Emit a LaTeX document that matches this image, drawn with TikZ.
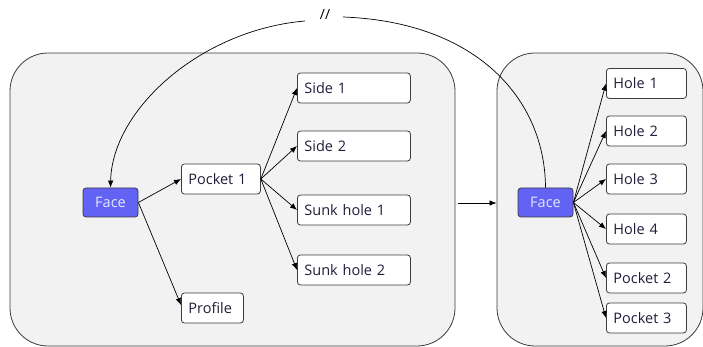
\documentclass[tikz,border=0pt]{standalone}
\usepackage{fontspec}
\setmainfont{Open Sans}
\usetikzlibrary{arrows.meta}
\definecolor{boxbg}{RGB}{242,242,242}
\definecolor{facefill}{RGB}{98,98,245}
\definecolor{facetext}{RGB}{230,230,255}
\definecolor{edgegray}{RGB}{60,60,60}
\definecolor{txt}{RGB}{30,30,60}
\tikzset{
  container/.style={draw=edgegray, fill=boxbg, rounded corners=38pt, line width=0.8pt},
  item/.style={draw=edgegray, fill=white, rounded corners=3pt, line width=0.8pt,
    minimum height=30pt, inner xsep=7pt, inner ysep=0pt, align=left,
    font=\fontsize{14.5}{17}\selectfont, text=txt},
  facebox/.style={draw=edgegray, fill=facefill, rounded corners=3pt, line width=0.8pt,
    minimum width=55pt, minimum height=29pt, inner sep=0pt,
    font=\fontsize{14.5}{17}\selectfont, text=facetext},
  arr/.style={-{Latex[length=7pt,width=5.5pt]}, line width=0.7pt, black},
  arc/.style={line width=0.7pt, black}
}
\begin{document}
\begin{tikzpicture}[x=1pt,y=-1pt]
\useasboundingbox (0,0) rectangle (703,347);
% containers
\node[container, minimum width=445pt, minimum height=293pt, inner sep=0pt] (left) at (232.5,199.5) {};
\node[container, minimum width=206pt, minimum height=293pt, inner sep=0pt] (right) at (600,199.5) {};
% left nodes
\node[facebox] (faceL) at (110.5,202.5) {Face};
\node[item, text width=65pt, anchor=west] (pocket1) at (181,179) {Pocket 1};
\node[item, text width=99pt, anchor=west] (side1) at (297,88) {Side 1};
\node[item, text width=99pt, anchor=west] (side2) at (297,146) {Side 2};
\node[item, text width=99pt, anchor=west] (sunk1) at (297,210) {Sunk hole 1};
\node[item, text width=99pt, anchor=west] (sunk2) at (297,270) {Sunk hole 2};
\node[item, text width=48pt, anchor=west] (profile) at (181,308) {Profile};
% right nodes
\node[facebox] (faceR) at (545.5,202.5) {Face};
\node[item, text width=66pt, anchor=west] (hole1) at (606,83.5) {Hole 1};
\node[item, text width=66pt, anchor=west] (hole2) at (606,131) {Hole 2};
\node[item, text width=66pt, anchor=west] (hole3) at (606,179) {Hole 3};
\node[item, text width=66pt, anchor=west] (hole4) at (606,229) {Hole 4};
\node[item, text width=66pt, anchor=west] (pocket2) at (606,278) {Pocket 2};
\node[item, text width=66pt, anchor=west] (pocket3) at (606,318) {Pocket 3};
% edges left
\draw[arr] (faceL.east) -- (pocket1.west);
\draw[arr] (faceL.east) -- ([yshift=3pt]profile.west);
\foreach \t in {side1,side2,sunk1,sunk2} \draw[arr] (pocket1.east) -- (\t.west);
% edges right
\foreach \t in {hole1,hole2,hole3,hole4,pocket2,pocket3} \draw[arr] (faceR.east) -- (\t.west);
% between containers
\draw[arr] ([xshift=3pt,yshift=-3.5pt]left.east) -- ([yshift=-3.5pt]right.west);
% arc with break
\coordinate (brkL) at (305,21);
\coordinate (brkR) at (343,17);
\node[font=\fontsize{14}{16}\selectfont, inner sep=0pt] (brk) at (325,15) {//};
\draw[arc] (faceR.north) .. controls (545,100) and (478,22) .. (brkR);
\draw[arc, -{Latex[length=7pt,width=5.5pt]}] (brkL) .. controls (200,30) and (112,110) .. (faceL.north);
\end{tikzpicture}
\end{document}
